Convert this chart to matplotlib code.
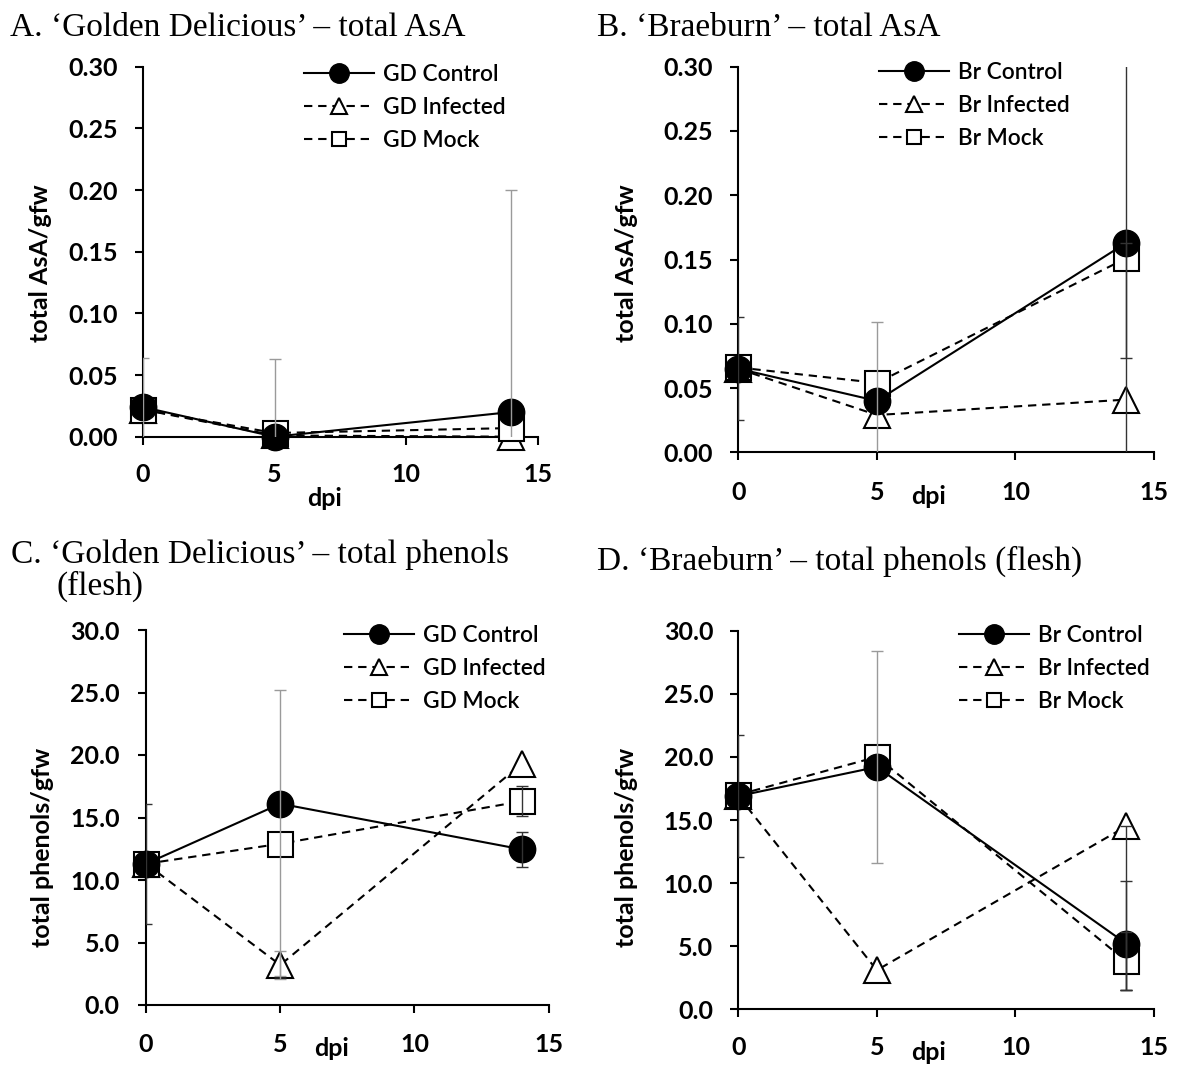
import matplotlib
matplotlib.use("Agg")
import matplotlib.pyplot as plt
from matplotlib.lines import Line2D

# ---------------------------------------------------------------- data
DPI = [0, 5, 14]
DPI_TICKS = [0, 5, 10, 15]
ASA_TICKS = [0.00, 0.05, 0.10, 0.15, 0.20, 0.25, 0.30]
PHENOL_TICKS = [0.0, 5.0, 10.0, 15.0, 20.0, 25.0, 30.0]

# error entries: a number for +/- the same amount, or (minus, plus)

# A. 'Golden Delicious' - total AsA
gd_asa_control = [0.024, 0.000, 0.020]
gd_asa_infected = [0.022, 0.001, 0.000]
gd_asa_mock = [0.022, 0.003, 0.007]
gd_asa_control_err = [0.040, 0.0, 0.180]
gd_asa_infected_err = [0.0, 0.0, 0.0]
gd_asa_mock_err = [0.0, 0.060, 0.0]

# B. 'Braeburn' - total AsA
br_asa_control = [0.065, 0.040, 0.163]
br_asa_infected = [0.065, 0.029, 0.041]
br_asa_mock = [0.066, 0.054, 0.151]
br_asa_control_err = [0.040, 0.0, (0.090, 0.0)]
br_asa_infected_err = [0.0, 0.0, 0.260]
br_asa_mock_err = [0.0, (0.060, 0.047), 0.0]

# C. 'Golden Delicious' - total phenols (flesh)
gd_phe_control = [11.3, 16.1, 12.45]
gd_phe_infected = [11.3, 3.2, 19.3]
gd_phe_mock = [11.3, 12.9, 16.3]
gd_phe_control_err = [4.8, 0.0, 1.4]
gd_phe_infected_err = [0.0, 1.1, 0.0]
gd_phe_mock_err = [0.0, (10.6, 12.3), 1.2]

# D. 'Braeburn' - total phenols (flesh)
br_phe_control = [16.9, 19.2, 5.2]
br_phe_infected = [16.9, 3.1, 14.5]
br_phe_mock = [17.0, 20.0, 3.8]
br_phe_control_err = [4.8, 0.0, (3.7, 5.0)]
br_phe_infected_err = [0.0, 0.0, (13.0, 0.0)]
br_phe_mock_err = [0.0, 8.4, 2.3]

# ---------------------------------------------------------------- style
W, H = 1178, 1065
SANS = ["Lato", "DejaVu Sans"]
SERIF = ["Liberation Serif", "DejaVu Serif"]
DASH = (0, (4, 2.8))
LW = 1.5
GREY = "#9a9a9a"
DARK = "#333333"

plt.rcParams["font.family"] = SANS
fig = plt.figure(figsize=(W / 100, H / 100), dpi=100)


def px_axes(left, top, right, bottom):
    return fig.add_axes([left / W, 1 - bottom / H, (right - left) / W, (bottom - top) / H])


def draw_errors(ax, y, err, grey_days):
    for x, v, e in zip(DPI, y, err):
        lo, hi = e if isinstance(e, tuple) else (e, e)
        if lo <= 0 and hi <= 0:
            continue
        col = GREY if x in grey_days else DARK
        ax.errorbar([x], [v], yerr=[[lo], [hi]], fmt="none", ecolor=col,
                    elinewidth=1.0, capsize=4, capthick=1.0, zorder=6)


def panel(ax, prefix, ctrl, inf, mock, errs, yticks, yfmt, grey_days,
          xpad, ypad, legend_xy):
    ax.plot(DPI, inf, ls=DASH, color="black", lw=LW, marker="^", ms=19,
            mfc="white", mec="black", mew=LW, clip_on=False, zorder=3)
    ax.plot(DPI, mock, ls=DASH, color="black", lw=LW, marker="s", ms=18,
            mfc="white", mec="black", mew=LW, clip_on=False, zorder=4)
    ax.plot(DPI, ctrl, ls="-", color="black", lw=LW, marker="o", ms=19,
            mfc="black", mec="black", clip_on=False, zorder=5)
    for series, e in zip((ctrl, inf, mock), errs):
        draw_errors(ax, series, e, grey_days)

    ax.set_xlim(DPI_TICKS[0], DPI_TICKS[-1])
    ax.set_ylim(yticks[0], yticks[-1])
    ax.set_xticks(DPI_TICKS)
    ax.set_xticklabels([str(t) for t in DPI_TICKS])
    ax.set_yticks(yticks)
    ax.set_yticklabels([yfmt % t for t in yticks])
    for s in ("top", "right"):
        ax.spines[s].set_visible(False)
    for s in ("left", "bottom"):
        ax.spines[s].set_linewidth(1.5)
        ax.spines[s].set_zorder(2)
    ax.tick_params(axis="both", direction="out", length=6, width=1.5,
                   labelsize=18)
    ax.tick_params(axis="x", pad=xpad)
    ax.tick_params(axis="y", pad=ypad)
    for lab in ax.get_xticklabels() + ax.get_yticklabels():
        lab.set_fontweight("bold")
    ax.patch.set_alpha(0)

    handles = [
        Line2D([], [], ls="-", color="black", lw=LW, marker="o", ms=14,
               mfc="black", mec="black"),
        Line2D([], [], ls=DASH, color="black", lw=LW, marker="^", ms=11,
               mfc="white", mec="black", mew=LW),
        Line2D([], [], ls=DASH, color="black", lw=LW, marker="s", ms=10,
               mfc="white", mec="black", mew=LW),
    ]
    labels = [f"{prefix} Control", f"{prefix} Infected", f"{prefix} Mock"]
    ax.legend(handles, labels, loc="upper left",
              bbox_to_anchor=(legend_xy[0] / W, 1 - legend_xy[1] / H),
              bbox_transform=fig.transFigure, frameon=False, borderpad=0,
              borderaxespad=0, handlelength=3.1, handletextpad=0.4,
              labelspacing=0.53,
              prop={"family": SANS, "size": 16.3, "weight": "semibold"})


def ftext(x, y, s, **kw):
    fig.text(x / W, 1 - y / H, s, **kw)


axA = px_axes(143, 66.7, 537.5, 436.7)
panel(axA, "GD", gd_asa_control, gd_asa_infected, gd_asa_mock,
      (gd_asa_control_err, gd_asa_infected_err, gd_asa_mock_err),
      ASA_TICKS, "%.2f", (0, 5, 14), 13, 12, (303.6, 64))

axB = px_axes(738.3, 66.7, 1154, 452.3)
panel(axB, "Br", br_asa_control, br_asa_infected, br_asa_mock,
      (br_asa_control_err, br_asa_infected_err, br_asa_mock_err),
      ASA_TICKS, "%.2f", (5,), 15, 12, (878.6, 62))

axC = px_axes(146.1, 630, 548.6, 1005)
panel(axC, "GD", gd_phe_control, gd_phe_infected, gd_phe_mock,
      (gd_phe_control_err, gd_phe_infected_err, gd_phe_mock_err),
      PHENOL_TICKS, "%.1f", (5,), 14, 13, (344, 625))

axD = px_axes(738.3, 630.7, 1154, 1009.3)
panel(axD, "Br", br_phe_control, br_phe_infected, br_phe_mock,
      (br_phe_control_err, br_phe_infected_err, br_phe_mock_err),
      PHENOL_TICKS, "%.1f", (5,), 13.5, 12, (958.7, 625))

# axis titles
for (x, y, s) in [(41, 263, "total AsA/gfw"), (626, 263, "total AsA/gfw"),
                  (42.5, 847, "total phenols/gfw"), (626, 847, "total phenols/gfw")]:
    ftext(x, y, s, rotation=90, ha="center", va="center", fontsize=18,
          fontweight="bold", family=SANS)
for (x, y) in [(325, 498), (929, 497), (332, 1048), (929, 1052)]:
    ftext(x, y, "dpi", ha="center", va="center", fontsize=18,
          fontweight="bold", family=SANS)

# panel headings
TITLE_KW = dict(ha="left", va="baseline", fontsize=24, family=SERIF)
ftext(9.6, 36, "A. \u2018Golden Delicious\u2019 \u2013 total AsA", **TITLE_KW)
ftext(597, 36, "B. \u2018Braeburn\u2019 \u2013 total AsA", **TITLE_KW)
ftext(11, 563, "C. \u2018Golden Delicious\u2019 \u2013 total phenols", **TITLE_KW)
ftext(57, 595, "(flesh)", **TITLE_KW)
ftext(597, 570, "D. \u2018Braeburn\u2019 \u2013 total phenols (flesh)", **TITLE_KW)

fig.savefig("out.png", dpi=100, facecolor="white")
